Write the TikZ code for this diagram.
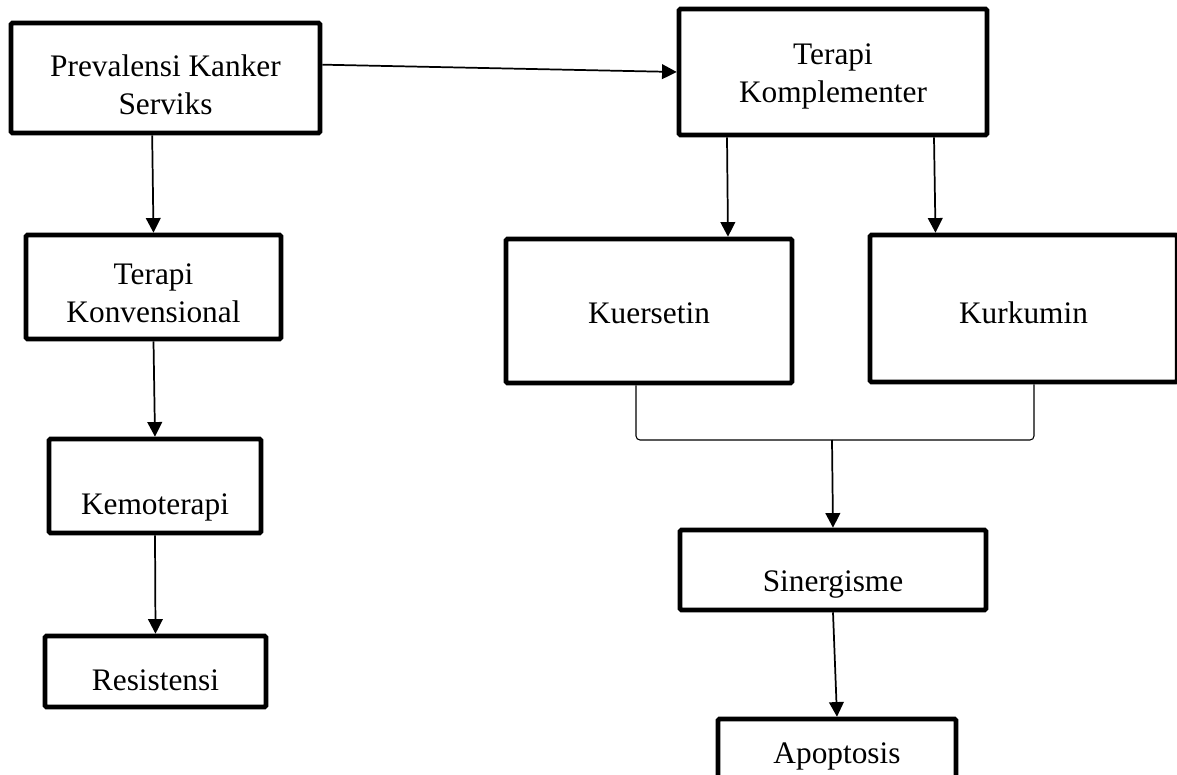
\documentclass[tikz,border=0pt]{standalone}
\usepackage{fontspec}
\setmainfont{Liberation Serif}
\usetikzlibrary{arrows.meta,calc}

\begin{document}
\begin{tikzpicture}[x=0.75pt, y=-0.75pt, font=\fontsize{23.5}{28.5}\selectfont,
  box/.style={shape=rectangle, draw=black, line width=3.4pt, rounded corners=1pt, inner sep=0pt},
  arr/.style={-{Triangle[length=11pt,width=11pt]}, line width=1.3pt, draw=black}]
\useasboundingbox (0,0) rectangle (1177,774);
\node[box, minimum width=231.75pt, minimum height=82.5pt, label={[align=center, yshift=-5pt]center:Prevalensi Kanker\\Serviks}] (prev) at (165.5,78) {};
\node[box, minimum width=231pt, minimum height=94.5pt, label={[align=center, yshift=-3pt]center:Terapi\\Komplementer}] (komp) at (833,72) {};
\node[box, minimum width=191.25pt, minimum height=78pt, label={[align=center, yshift=-5pt]center:Terapi\\Konvensional}] (konv) at (153.5,287) {};
\node[box, minimum width=159pt, minimum height=70.5pt, label={[yshift=-16pt]center:Kemoterapi}] (kemo) at (155,486) {};
\node[box, minimum width=165.75pt, minimum height=53.25pt, label={[yshift=-6.5pt]center:Resistensi}] (resis) at (155.5,671.5) {};
\node[box, minimum width=214.5pt, minimum height=108pt, label={[yshift=-1.5pt]center:Kuersetin}] (kuer) at (649,311) {};
\node[box, minimum width=230.25pt, minimum height=110.25pt, label={[yshift=-3pt]center:Kurkumin}] (kurk) at (1023.5,308.5) {};
\node[box, minimum width=229.5pt, minimum height=60pt, label={[yshift=-11pt]center:Sinergisme}] (siner) at (833,570) {};
\node[box, minimum width=178.5pt, minimum height=48pt, label={[yshift=-4pt]center:Apoptosis}] (apop) at (837,751) {};
\coordinate (j) at (832,440);
\draw [arr] ([yshift=10pt]prev.east) -- (komp.west);
\draw [arr] ([xshift=-10pt]prev.south) -- (konv.north);
\draw [arr] (konv.south) -- (kemo.north);
\draw [arr] (kemo.south) -- (resis.north);
\draw [arr] ($(komp.south)+(-106,0)$) -- ($(kuer.north)+(79,0)$);
\draw [arr] ($(komp.south)+(101,0)$) -- ($(kurk.north)+(-88,0)$);
\draw [line width=0.8pt, rounded corners=3pt] ($(kuer.south)+(-13,0)$) |- (j) -| ($(kurk.south)+(10.5,0)$);
\draw [arr] (j) -- (siner.north);
\draw [arr] (siner.south) -- (apop.north);
\end{tikzpicture}
\end{document}
